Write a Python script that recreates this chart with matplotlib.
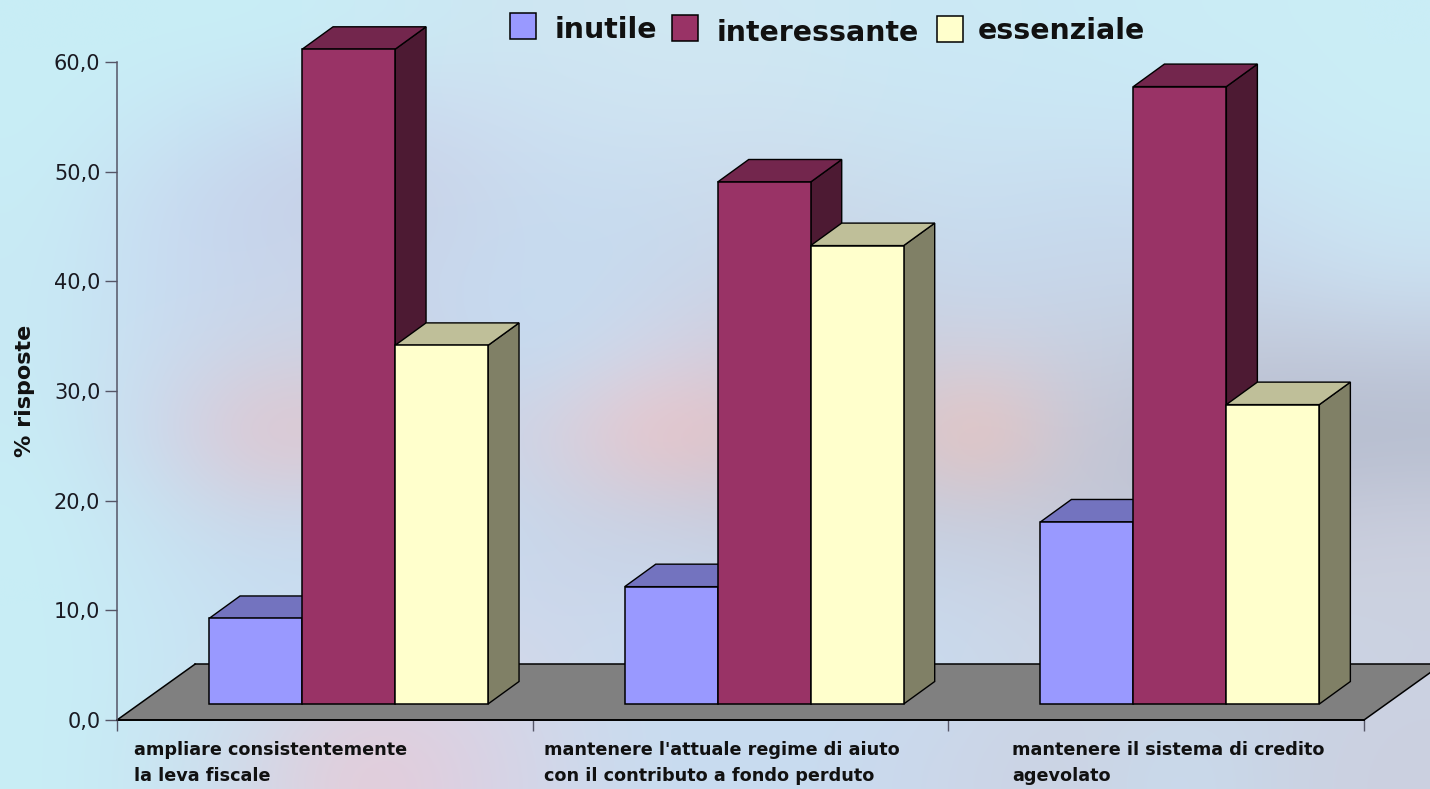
import matplotlib
matplotlib.use('Agg')
import matplotlib.pyplot as plt
from matplotlib.colors import to_rgb
from matplotlib.patches import Polygon, Rectangle
import numpy as np

categories = ['ampliare consistentemente\nla leva fiscale',
              "mantenere l'attuale regime di aiuto\ncon il contributo a fondo perduto",
              'mantenere il sistema di credito\nagevolato']
series = ['inutile', 'interessante', 'essenziale']
inutile = [7.8, 10.7, 16.6]
interessante = [59.7, 47.6, 56.3]
essenziale = [32.7, 41.8, 27.3]
yticks = [0, 10, 20, 30, 40, 50, 60]

front = ['#9999ff', '#993366', '#ffffcc']
top = ['#7373bf', '#73264d', '#bfbf99']
side = ['#5c5c99', '#4d1a33', '#808066']

# sfondo sfumato, letto a occhio dalla figura
bg = [
    'c8eef6 c8eef6 c8eef6 caecf5 cce8f3 cfe6f2 d0e8f3 d0e8f3 cce9f4 cbe9f5 cbeaf5 caecf6 caedf6 caeef6',
    'c8eef6 c8e8f5 c8dff2 cbd8ee cddcf0 cde2f2 cfe3f2 cfe2f1 cce4f2 cbe5f4 cbe6f4 cbe6f5 caeaf6 caeef6',
    'c8ecf5 c9ddf2 c6d2ea c8cfe5 c9d6ea c8dcf0 c9dcee cddaea cadcec cadff0 c8dcee c9dcf0 cbe2f2 cbe8f4',
    'c8eaf5 c8dcf2 c8d6ec cad6ea c8d8ee c6dcf0 c8d8ec cbd4e6 c8d4e6 c6d8ec c6d6ea c8d6e8 c8d8ec cbe0f1',
    'c8eaf5 cadcf0 cdd4e4 cfd0e0 c6d8ee c6dcf0 d4d4e6 d2c8d6 c8cfe0 d2d0de c8d0e0 c4ccdc c2c8d8 c2cadc',
    'c8ecf5 cad8ee e4c4cc dec8d0 c8d6ea d8d0de f2c0c0 d8c4cc c6ccdd f4c0b4 c8c8d8 bcc2d2 b4bace b4bccd',
    'c8eef6 c8e2f2 cad6e8 c8d6ea c8dcf0 c8d4e6 c8d0e2 c8c8d8 c6cedf c6ccdc c2c8d8 c0c4d4 c4c8d8 c8ccdc',
    'c8eef6 c8e6f4 c8def2 c8dff2 cadcf0 ccd6ea c9d8ec c8d6ea c8d8ec cad6e8 ccd2e2 ccd0e0 ccd2e0 cdd2e0',
    'c8eef6 c8e8f5 cbdff0 d4d6e6 d8d6e6 cedaec c8dcf0 c8dcf0 c8dcf0 cadaec ccd6e6 ccd2e2 c9d6e8 cbd2e2',
    'c8eef6 c9e6f3 d2d8e8 e6ccd8 dcd0e2 d0d8ea c8dcf0 c8dcf0 cadaee ccd6e8 ccd2e2 c8dcee cad4e4 ccd0e0',
]
bg_rgb = np.array([[to_rgb('#' + c) for c in row.split()] for row in bg])

fig = plt.figure(figsize=(14.3, 7.89), dpi=100)
plt.rcParams['font.family'] = 'DejaVu Sans'

back = fig.add_axes([0, 0, 1, 1], zorder=0)
back.imshow(bg_rgb, aspect='auto', interpolation='bicubic')
back.axis('off')

ax = fig.add_axes([117/1430, 69/789, 1247/1430, 658/789], zorder=1)
ax.patch.set_alpha(0)
ax.set_xlim(0, 3)
ax.set_ylim(0, 60)

# profondita' della vista 3D, in unita' degli assi
floor_dx, floor_dy = 0.188, 5.1
bar_dx, bar_dy = 0.0746, 2.05
lift = 1.46
bar_w = 0.2237
bar_start = 0.2215

ax.add_patch(Polygon([(0, 0), (3, 0), (3 + floor_dx, floor_dy), (floor_dx, floor_dy)],
                     fc='#808080', ec='none', clip_on=False, zorder=1))
ax.plot([floor_dx, 3 + floor_dx], [floor_dy, floor_dy], color='k', lw=1.1, clip_on=False, zorder=1.5)
ax.plot([0, floor_dx], [0, floor_dy], color='k', lw=1.1, clip_on=False, zorder=1.5)
ax.plot([3, 3 + floor_dx], [0, floor_dy], color='k', lw=1.1, clip_on=False, zorder=1.5)

values = [inutile, interessante, essenziale]
z = 2
for i in range(len(categories)):
    for s, vals in enumerate(values):
        x0 = i + bar_start + s * bar_w
        x1 = x0 + bar_w
        y0 = lift
        y1 = lift + vals[i]
        ax.add_patch(Polygon([(x1, y0), (x1 + bar_dx, y0 + bar_dy), (x1 + bar_dx, y1 + bar_dy), (x1, y1)],
                             fc=side[s], ec='k', lw=1.0, clip_on=False, zorder=z))
        ax.add_patch(Polygon([(x0, y1), (x1, y1), (x1 + bar_dx, y1 + bar_dy), (x0 + bar_dx, y1 + bar_dy)],
                             fc=top[s], ec='k', lw=1.0, clip_on=False, zorder=z))
        ax.add_patch(Rectangle((x0, y0), bar_w, vals[i], fc=front[s], ec='k', lw=1.1,
                               clip_on=False, zorder=z))
        z += 1

for sp in ['top', 'right']:
    ax.spines[sp].set_visible(False)
ax.spines['left'].set_color('#555566')
ax.spines['left'].set_linewidth(1.1)
ax.spines['bottom'].set_color('k')
ax.spines['bottom'].set_linewidth(1.4)
ax.spines['bottom'].set_zorder(1.6)

ax.set_yticks(yticks)
ax.set_yticklabels([f'{v:.1f}'.replace('.', ',') for v in yticks], fontsize=15, color='#1a1a22')
ax.set_xticks([0, 1, 2, 3])
ax.set_xticklabels([])
ax.tick_params(axis='y', length=8.5, width=1, color='#555566', pad=3.5)
ax.tick_params(axis='x', length=8, width=1, color='#555566')

ax.text(-0.221, 30.0, '% risposte', rotation=90, fontsize=16, fontweight='bold',
        ha='center', va='center', color='#111111', clip_on=False)

label_x = [0.041, 1.027, 2.153]
for x, lab in zip(label_x, categories):
    ax.text(x, -1.95, lab, fontsize=12.7, fontweight='bold', ha='left', va='top',
            color='#111111', linespacing=1.55, clip_on=False)

# legenda a mano, come nell'originale le voci non sono allineate
leg_x = [510, 672, 937]
leg_y = [13, 15, 16]
leg_txt_x = [555, 717, 978]
leg_txt_y = [30, 33, 31]
for s, name in enumerate(series):
    fig.patches.append(Rectangle((leg_x[s]/1430, 1 - (leg_y[s] + 26)/789), 26/1430, 26/789,
                                 transform=fig.transFigure, fc=front[s], ec='k', lw=1.1, zorder=5))
    fig.text(leg_txt_x[s]/1430, 1 - leg_txt_y[s]/789, name, fontsize=20.4, fontweight='bold',
             ha='left', va='center', color='#111111', zorder=5)

fig.savefig('out.png', dpi=100)
